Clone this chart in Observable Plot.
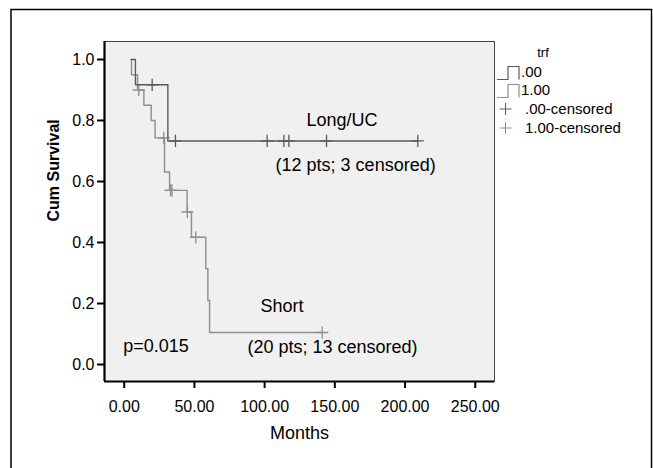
<!DOCTYPE html>
<html>
<head>
<meta charset="utf-8">
<script src="https://cdn.jsdelivr.net/npm/d3@7"></script>
<script src="https://cdn.jsdelivr.net/npm/@observablehq/plot@0.6"></script>
<style>
  body { margin: 0; background: #fff; }
  #chart { position: relative; width: 653px; height: 468px; }
</style>
</head>
<body>
<div id="chart"></div>
<script>
const FONT = '"Liberation Sans", Arial, Helvetica, sans-serif';

// Axes
const xDomain = [-14.03, 263.7];
const yDomain = [-0.0557, 1.059];
const xTicks = [0, 50, 100, 150, 200, 250];
const yTicks = [0, 0.2, 0.4, 0.6, 0.8, 1.0];

// Kaplan–Meier steps (trf = .00 : Long/UC)
const longTime = [5, 8, 31.1, 209.1];
const longSurv = [1.0, 0.917, 0.733, 0.733];
const longCensorTime = [19.9, 36.5, 101.8, 113.7, 117.3, 144.1, 209.1];
const longCensorSurv = [0.917, 0.733, 0.733, 0.733, 0.733, 0.733, 0.733];

// Kaplan–Meier steps (trf = 1.00 : Short)
const shortTime = [5, 5.2, 9.5, 14, 19.2, 22, 28.7, 32.3, 44.8, 47.9, 58.1, 59.6, 60.8, 141];
const shortSurv = [1.0, 0.95, 0.90, 0.85, 0.80, 0.743, 0.631, 0.571, 0.50, 0.417, 0.314, 0.21, 0.105, 0.105];
const shortCensorTime = [10.4, 28.2, 33, 34, 45, 51, 141];
const shortCensorSurv = [0.90, 0.743, 0.571, 0.571, 0.50, 0.417, 0.105];

// Annotations
const annoText = ["Long/UC", "(12 pts; 3 censored)", "Short", "(20 pts; 13 censored)", "p=0.015"];
const annoX = [129.8, 107.8, 97.1, 87.8, -0.7];
const annoY = [0.8016, 0.652, 0.190, 0.058, 0.059];

// Legend
const legendTitle = "trf";
const legendLines = [".00", "1.00"];
const legendCensored = [".00-censored", "1.00-censored"];

const darkCol = "#5a5a5a";
const lightCol = "#8e8e8e";

const longSteps = longTime.map((t, i) => ({t, s: longSurv[i]}));
const shortSteps = shortTime.map((t, i) => ({t, s: shortSurv[i]}));
const longCens = longCensorTime.map((t, i) => ({t, s: longCensorSurv[i]}));
const shortCens = shortCensorTime.map((t, i) => ({t, s: shortCensorSurv[i]}));
const annos = annoText.map((text, i) => ({text, x: annoX[i], y: annoY[i]}));

const chart = Plot.plot({
  width: 653,
  height: 468,
  marginLeft: 104,
  marginRight: 159,
  marginTop: 41,
  marginBottom: 87,
  style: { fontFamily: FONT, background: "#fff", color: "#000" },
  x: { domain: xDomain },
  y: { domain: yDomain },
  marks: [
    Plot.frame({ fill: "#f0f0f0", stroke: "#444", strokeWidth: 1 }),
    Plot.axisX({ ticks: xTicks, tickFormat: d3.format(".2f"), tickSize: 7, tickPadding: 12,
      fontSize: 16, strokeWidth: 2, stroke: "#000", label: null }),
    Plot.axisY({ ticks: yTicks, tickFormat: d3.format(".1f"), tickSize: 7, tickPadding: 3,
      fontSize: 16, strokeWidth: 2, stroke: "#000", label: null }),
    Plot.ruleX([xDomain[0]], { stroke: "#000", strokeWidth: 2.2 }),
    Plot.ruleY([yDomain[0]], { stroke: "#000", strokeWidth: 2.2 }),
    Plot.line(shortSteps, { x: "t", y: "s", curve: "step-after", stroke: lightCol, strokeWidth: 1.4 }),
    Plot.dot(shortCens, { x: "t", y: "s", symbol: "plus", r: 4, stroke: lightCol, strokeWidth: 1.3 }),
    Plot.line(longSteps, { x: "t", y: "s", curve: "step-after", stroke: darkCol, strokeWidth: 1.4 }),
    Plot.dot(longCens, { x: "t", y: "s", symbol: "plus", r: 4, stroke: darkCol, strokeWidth: 1.3 }),
    Plot.text(annos, { x: "x", y: "y", text: "text", textAnchor: "start", lineAnchor: "middle",
      fontSize: 18, fill: "#000" }),
    Plot.text(["Months"], { frameAnchor: "bottom", dy: 52, lineAnchor: "middle", fontSize: 18, fill: "#000" }),
    Plot.text(["Cum Survival"], { frameAnchor: "left", dx: -51, dy: 10, rotate: -90, lineAnchor: "middle",
      fontSize: 16, fontWeight: "bold", fill: "#000" })
  ]
});

document.getElementById("chart").appendChild(chart);

// Outer frame and legend
const svg = d3.select(chart);
svg.append("rect").attr("x", 11).attr("y", 9.5).attr("width", 640.5).attr("height", 480)
  .attr("fill", "none").attr("stroke", "#000").attr("stroke-width", 1.5);

const leg = svg.append("g").attr("font-family", FONT).attr("fill", "#000").attr("text-anchor", "start");
leg.append("text").attr("x", 543).attr("y", 52).attr("dy", "0.35em")
  .attr("text-anchor", "middle").attr("font-size", 13).text(legendTitle);

const lineCols = [darkCol, lightCol];
const lineYs = [72, 90];
legendLines.forEach((label, i) => {
  const y = lineYs[i];
  const low = y + 7.5, high = y - 5.5;
  leg.append("path")
    .attr("d", `M497,${low}H508V${high}H519V${low}`)
    .attr("fill", "none").attr("stroke", lineCols[i]).attr("stroke-width", 1.2);
  leg.append("text").attr("x", 521).attr("y", y).attr("dy", "0.35em")
    .attr("text-anchor", "start").attr("font-size", 15).text(label);
});
const censYs = [109, 128];
legendCensored.forEach((label, i) => {
  const y = censYs[i];
  leg.append("path")
    .attr("d", `M499.5,${y}H511.5M505.5,${y - 6}V${y + 6}`)
    .attr("fill", "none").attr("stroke", lineCols[i]).attr("stroke-width", 1);
  leg.append("text").attr("x", 525).attr("y", y).attr("dy", "0.35em")
    .attr("text-anchor", "start").attr("font-size", 15).text(label);
});
</script>
</body>
</html>
